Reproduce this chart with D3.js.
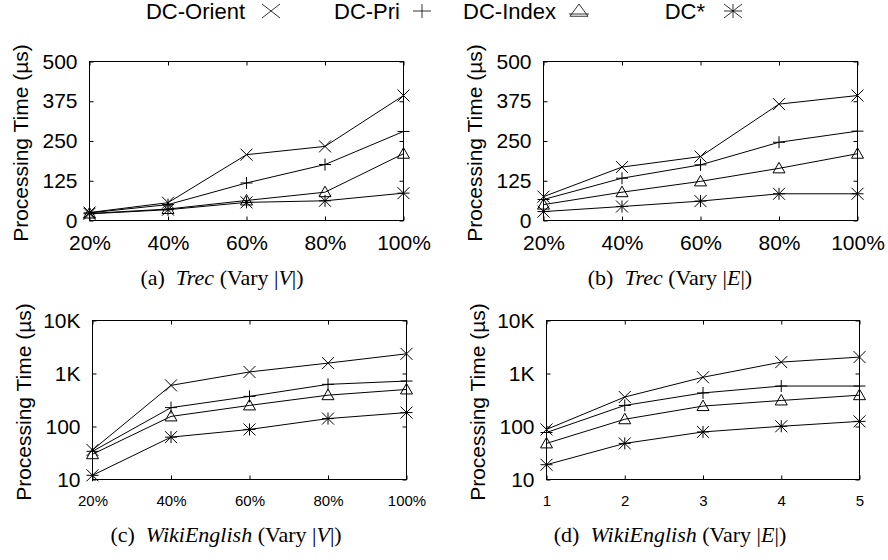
<!DOCTYPE html>
<html>
<head>
<meta charset="utf-8">
<script src="https://cdn.jsdelivr.net/npm/d3@7"></script>
<style>
	body { margin: 0; background: #fff; }
	svg { display: block; }
	.tick text { fill: #000; }
</style>
</head>
<body>
<svg id="chart" width="888" height="560"></svg>
<script>
// -------------- DATA --------------
const pctLabels = ["20%", "40%", "60%", "80%", "100%"];
const stepLabels = ["1", "2", "3", "4", "5"];
const linTicks = [0, 125, 250, 375, 500];
const logTicks = [10, 100, 1000, 10000];
const logTickLabels = ["10", "100", "1K", "10K"];
const seriesNames = ["DC-Orient", "DC-Pri", "DC-Index", "DC*"];

// (a) Trec, vary |V|
const trecV_orient = [25, 56, 207, 233, 393];
const trecV_pri = [24, 50, 118, 176, 280];
const trecV_index = [22, 36, 63, 89, 210];
const trecV_star = [21, 34, 57, 62, 86];

// (b) Trec, vary |E|
const trecE_orient = [75, 168, 201, 366, 393];
const trecE_pri = [66, 133, 175, 246, 281];
const trecE_index = [50, 89, 123, 164, 210];
const trecE_star = [28, 44, 61, 84, 84];

// (c) WikiEnglish, vary |V|
const wikiV_orient = [36, 597, 1070, 1570, 2350];
const wikiV_pri = [34, 227, 370, 624, 720];
const wikiV_index = [30, 155, 250, 390, 500];
const wikiV_star = [12, 63, 88, 141, 183];

// (d) WikiEnglish, vary |E|
const wikiE_orient = [88, 360, 850, 1640, 2040];
const wikiE_pri = [77, 250, 430, 580, 580];
const wikiE_index = [48, 137, 243, 310, 390];
const wikiE_star = [19, 48, 79, 101, 125];

const svg = d3.select("#chart");
const sans = "'Liberation Sans', Arial, sans-serif";
const serif = "'Liberation Serif', 'Times New Roman', serif";

// marker paths, gnuplot style
function markerPath(kind, x, y, sx, sy) {
	sy = sy || sx;
	let p = d3.path();
	if (kind === "cross" || kind === "star") {
		p.moveTo(x - sx, y - sy); p.lineTo(x + sx, y + sy);
		p.moveTo(x - sx, y + sy); p.lineTo(x + sx, y - sy);
	}
	if (kind === "plus" || kind === "star") {
		p.moveTo(x - sx, y); p.lineTo(x + sx, y);
		p.moveTo(x, y - sy); p.lineTo(x, y + sy);
	}
	if (kind === "tri") {
		p.moveTo(x, y - sy);
		p.lineTo(x + sx, y + sy * 0.75);
		p.lineTo(x - sx, y + sy * 0.75);
		p.closePath();
	}
	return p.toString();
}
const markerKinds = ["cross", "plus", "tri", "star"];

// -------------- LEGEND --------------
const legendTextEnd = [245, 400, 556, 705];
const legendMarkX = [271, 422, 579, 733];
seriesNames.forEach((name, i) => {
	svg.append("text")
		.attr("x", legendTextEnd[i])
		.attr("y", 19)
		.attr("text-anchor", "end")
		.style("font-family", sans)
		.style("font-size", "22px")
		.text(name);
	svg.append("path")
		.attr("d", markerPath(markerKinds[i], legendMarkX[i], 11, 9, 7))
		.attr("fill", "none")
		.attr("stroke", "#000")
		.attr("stroke-width", 0.8);
});
// little base line under the legend triangle
svg.append("line")
	.attr("x1", legendMarkX[2] - 10).attr("x2", legendMarkX[2] + 10)
	.attr("y1", 14).attr("y2", 14)
	.attr("stroke", "#000").attr("stroke-width", 0.8);

// -------------- PANELS --------------
function drawPanel(p) {
	let g = svg.append("g");

	let xScale = d3.scalePoint().domain(p.cats).range([p.x0, p.x1]);
	let yScale = p.log
		? d3.scaleLog().domain([10, 10000]).range([p.y1, p.y0])
		: d3.scaleLinear().domain([0, 500]).range([p.y1, p.y0]);

	let yAxis = d3.axisLeft(yScale)
		.tickValues(p.yTicks)
		.tickSizeInner(-4).tickSizeOuter(0)
		.tickPadding(12)
		.tickFormat((d, i) => p.yLabels[i]);
	let yg = g.append("g").attr("transform", `translate(${p.x0}, 0)`).call(yAxis);
	yg.selectAll("text").style("font-family", sans).style("font-size", "21px");

	let yAxisR = d3.axisRight(yScale).tickValues(p.yTicks).tickSizeInner(-4).tickSizeOuter(0).tickFormat("");
	g.append("g").attr("transform", `translate(${p.x1}, 0)`).call(yAxisR);

	let xAxis = d3.axisBottom(xScale)
		.tickSizeInner(-4).tickSizeOuter(0)
		.tickPadding(p.xPad);
	let xg = g.append("g").attr("transform", `translate(0, ${p.y1})`).call(xAxis);
	xg.selectAll("text").style("font-family", sans).style("font-size", p.xFont + "px");

	let xAxisT = d3.axisTop(xScale).tickSizeInner(-4).tickSizeOuter(0).tickFormat("");
	g.append("g").attr("transform", `translate(0, ${p.y0})`).call(xAxisT);

	g.selectAll(".domain").remove();
	g.selectAll(".tick line").attr("stroke", "#000");

	g.append("rect")
		.attr("x", p.x0).attr("y", p.y0)
		.attr("width", p.x1 - p.x0).attr("height", p.y1 - p.y0)
		.attr("fill", "none").attr("stroke", "#000").attr("stroke-width", 1);

	let line = d3.line().x((d, i) => xScale(p.cats[i])).y((d) => yScale(d));

	p.series.forEach((vals, si) => {
		g.append("path")
			.datum(vals)
			.attr("d", line)
			.attr("fill", "none")
			.attr("stroke", "#000")
			.attr("stroke-width", 1);
		g.selectAll(null)
			.data(vals)
			.join("path")
			.attr("d", (d, i) => markerPath(markerKinds[si], xScale(p.cats[i]), yScale(d), 6, 6))
			.attr("fill", "none")
			.attr("stroke", "#000")
			.attr("stroke-width", 1);
	});

	// axis title
	g.append("text")
		.attr("transform", `translate(${p.titleX}, ${(p.y0 + p.y1) / 2 + 2}) rotate(-90)`)
		.attr("text-anchor", "middle")
		.attr("dy", "0.35em")
		.style("font-family", sans)
		.style("font-size", "21px")
		.text("Processing Time (\u00b5s)");

	// caption
	let cap = g.append("text")
		.attr("x", p.capX)
		.attr("y", p.capY)
		.attr("text-anchor", "middle")
		.style("font-family", serif)
		.style("font-size", "22px");
	cap.append("tspan").text(p.capTag + "\u00a0 ");
	cap.append("tspan").style("font-style", "italic").text(p.capName);
	cap.append("tspan").text(" (Vary |");
	cap.append("tspan").style("font-style", "italic").text(p.capVar);
	cap.append("tspan").text("|)");
}

drawPanel({
	x0: 89.5, x1: 403.5, y0: 61.5, y1: 220.5, log: false,
	cats: pctLabels, yTicks: linTicks, yLabels: linTicks.map(String),
	xFont: 21, xPad: 15,
	series: [trecV_orient, trecV_pri, trecV_index, trecV_star],
	titleX: 21, capX: 222, capY: 285, capTag: "(a)", capName: "Trec", capVar: "V"
});
drawPanel({
	x0: 543.5, x1: 857.5, y0: 61.5, y1: 220.5, log: false,
	cats: pctLabels, yTicks: linTicks, yLabels: linTicks.map(String),
	xFont: 21, xPad: 15,
	series: [trecE_orient, trecE_pri, trecE_index, trecE_star],
	titleX: 475, capX: 670, capY: 285, capTag: "(b)", capName: "Trec", capVar: "E"
});
drawPanel({
	x0: 92.5, x1: 406.5, y0: 320.5, y1: 479.5, log: true,
	cats: pctLabels, yTicks: logTicks, yLabels: logTickLabels,
	xFont: 15, xPad: 16,
	series: [wikiV_orient, wikiV_pri, wikiV_index, wikiV_star],
	titleX: 24, capX: 226, capY: 542, capTag: "(c)", capName: "WikiEnglish", capVar: "V"
});
drawPanel({
	x0: 546.5, x1: 859.5, y0: 320.5, y1: 479.5, log: true,
	cats: stepLabels, yTicks: logTicks, yLabels: logTickLabels,
	xFont: 15, xPad: 16,
	series: [wikiE_orient, wikiE_pri, wikiE_index, wikiE_star],
	titleX: 478, capX: 670, capY: 542, capTag: "(d)", capName: "WikiEnglish", capVar: "E"
});
</script>
</body>
</html>
